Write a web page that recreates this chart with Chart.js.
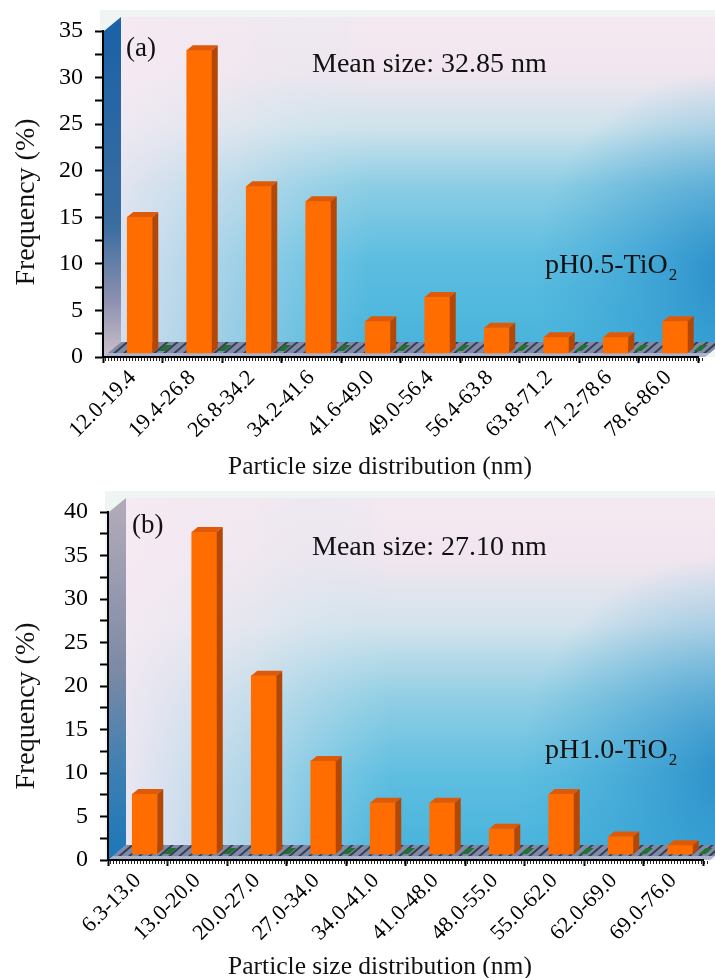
<!DOCTYPE html>
<html>
<head>
<meta charset="utf-8">
<script src="https://cdn.jsdelivr.net/npm/chart.js@4.4.0/dist/chart.umd.min.js"></script>
<style>
  html, body { margin: 0; padding: 0; background: #fff; }
  .panel { position: relative; width: 715px; }
  canvas { display: block; }
</style>
</head>
<body>
<div class="panel" style="height:480px"><canvas id="chartA" width="715" height="480"></canvas></div>
<div class="panel" style="height:498px"><canvas id="chartB" width="715" height="498"></canvas></div>
<script>
// (a) pH0.5-TiO2
const sizeBinsA = ['12.0-19.4', '19.4-26.8', '26.8-34.2', '34.2-41.6', '41.6-49.0',
                   '49.0-56.4', '56.4-63.8', '63.8-71.2', '71.2-78.6', '78.6-86.0'];
const freqA = [14.6, 32.5, 17.9, 16.3, 3.4, 6.0, 2.7, 1.7, 1.7, 3.4];
const yMaxA = 35;

// (b) pH1.0-TiO2
const sizeBinsB = ['6.3-13.0', '13.0-20.0', '20.0-27.0', '27.0-34.0', '34.0-41.0',
                   '41.0-48.0', '48.0-55.0', '55.0-62.0', '62.0-69.0', '69.0-76.0'];
const freqB = [6.9, 37.0, 20.5, 10.7, 5.9, 5.9, 2.9, 6.9, 2.0, 1.0];
const yMaxB = 40;

const yStep = 5;
const serif = "'Liberation Serif', 'Times New Roman', serif";

function stops(g, list) {
  list.forEach(([s, c]) => g.addColorStop(s, c));
  return g;
}

// walls + floor of the 3D box, drawn before the axes
function drawBox(chart, o) {
  const { ctx, chartArea: a } = chart;
  const L = a.left, R = a.right, T = a.top, B = a.bottom;
  const dx = 18, dy = -14;
  ctx.save();

  ctx.fillStyle = '#eef5f3';
  ctx.fillRect(L - 3, T - 21, chart.width - L + 3, B - T + 21);

  // back wall
  const bx = L + dx, by = T + dy, bw = chart.width - bx, bh = (B - 15) - by;
  ctx.fillStyle = stops(ctx.createLinearGradient(0, by, 0, by + bh), o.backV);
  ctx.fillRect(bx, by, bw, bh);
  ctx.fillStyle = stops(ctx.createLinearGradient(bx, 0, bx + bw, 0), o.backH);
  ctx.fillRect(bx, by, bw, bh);
  const cy = by + bh * 0.78;
  ctx.fillStyle = stops(ctx.createRadialGradient(chart.width + 20, cy, 0,
                                                 chart.width + 20, cy, bh * 0.62), o.backR);
  ctx.fillRect(bx, by, bw, bh);

  // left wall
  ctx.fillStyle = stops(ctx.createLinearGradient(0, T, 0, B), o.wall);
  ctx.beginPath();
  ctx.moveTo(L + 1, B); ctx.lineTo(L + 1, T); ctx.lineTo(L + dx, T + dy);
  ctx.lineTo(L + dx, B - 15); ctx.closePath();
  ctx.fill();

  // floor slab
  ctx.fillStyle = '#aab3cc';
  ctx.beginPath();
  ctx.moveTo(L, B); ctx.lineTo(R + 7, B); ctx.lineTo(R + 12, B - 4);
  ctx.lineTo(L + 5, B - 4); ctx.closePath();
  ctx.fill();
  ctx.fillStyle = '#7f89a8';
  ctx.beginPath();
  ctx.moveTo(L + 5, B - 4); ctx.lineTo(R + 12, B - 4); ctx.lineTo(R + 25, B - 15);
  ctx.lineTo(L + dx, B - 15); ctx.closePath();
  ctx.fill();
  ctx.save();
  ctx.clip();
  for (let x = L; x < R + 12; x += 10) {
    ctx.fillStyle = 'rgba(30,36,50,0.75)';
    ctx.beginPath();
    ctx.moveTo(x, B - 4); ctx.lineTo(x + 3, B - 4); ctx.lineTo(x + 16, B - 15);
    ctx.lineTo(x + 13, B - 15); ctx.closePath();
    ctx.fill();
  }
  chart.getDatasetMeta(0).data.forEach(bar => {
    const r = bar.x + bar.width / 2 + 6;
    ctx.fillStyle = '#1f7231';
    ctx.beginPath();
    ctx.moveTo(r, B - 6); ctx.lineTo(r + 7, B - 6); ctx.lineTo(r + 14, B - 12);
    ctx.lineTo(r + 7, B - 12); ctx.closePath();
    ctx.fill();
  });
  ctx.restore();
  ctx.restore();
}

// side and top faces of each bar
function drawDepth(chart) {
  const { ctx } = chart;
  const d = [6, -5];
  ctx.save();
  chart.getDatasetMeta(0).data.forEach(bar => {
    const { x, y, base, width } = bar.getProps(['x', 'y', 'base', 'width'], true);
    const l = x - width / 2, r = x + width / 2;
    ctx.fillStyle = '#df5a08';
    ctx.beginPath();
    ctx.moveTo(l, y); ctx.lineTo(l + d[0], y + d[1]); ctx.lineTo(r + d[0], y + d[1]);
    ctx.lineTo(r, y); ctx.closePath();
    ctx.fill();
    ctx.fillStyle = '#b44705';
    ctx.beginPath();
    ctx.moveTo(r, y); ctx.lineTo(r + d[0], y + d[1]); ctx.lineTo(r + d[0], base + d[1]);
    ctx.lineTo(r, base); ctx.closePath();
    ctx.fill();
  });
  ctx.restore();
}

function drawText(chart, o) {
  const { ctx, chartArea: a } = chart;
  ctx.save();
  // fine ruler ticks under the x axis
  ctx.strokeStyle = '#222';
  ctx.lineWidth = 1;
  ctx.beginPath();
  for (let x = a.left + 2; x < a.right + 6; x += 3) {
    ctx.moveTo(x + 0.5, a.bottom + 1); ctx.lineTo(x + 0.5, a.bottom + 4);
  }
  ctx.stroke();

  ctx.fillStyle = '#111';
  ctx.textBaseline = 'alphabetic';
  ctx.textAlign = 'left';
  ctx.font = '27px ' + serif;
  ctx.fillText(o.tag, o.tagX, o.tagY);
  ctx.font = '28px ' + serif;
  ctx.fillText(o.mean, 312, o.meanY);
  ctx.fillText(o.sample, 545, o.sampleY);
  const w = ctx.measureText(o.sample).width;
  ctx.font = '17px ' + serif;
  ctx.fillText('2', 545 + w + 1, o.sampleY + 7);

  ctx.textAlign = 'center';
  ctx.textBaseline = 'middle';
  ctx.font = '25.5px ' + serif;
  ctx.fillText('Particle size distribution (nm)', 380, o.xTitleY);
  ctx.translate(27, o.yTitleY);
  ctx.rotate(-Math.PI / 2);
  ctx.font = '28px ' + serif;
  ctx.fillText('Frequency (%)', 0, 0);
  ctx.restore();
}

function makeChart(id, labels, values, yMax, o) {
  const sx = 7 / 59.5;          // bars sit half-way into the floor depth
  const sy = o.baseLift;
  return new Chart(document.getElementById(id), {
    type: 'bar',
    data: {
      labels: labels,
      datasets: [{
        data: values.map((v, i) => ({ x: i, y: v })),
        xAxisID: 'xb',
        yAxisID: 'yb',
        backgroundColor: '#ff6c00',
        borderWidth: 0,
        barThickness: 25
      }]
    },
    options: {
      responsive: false,
      animation: false,
      devicePixelRatio: 1,
      layout: { padding: { top: o.padTop, right: o.padRight, left: 0, bottom: 0 } },
      plugins: { legend: { display: false }, tooltip: { enabled: false } },
      scales: {
        x: {
          type: 'category',
          offset: true,
          grid: { offset: true, drawOnChartArea: false, tickLength: 6, tickWidth: 2, color: '#000' },
          border: { display: true, color: '#000', width: 2 },
          ticks: {
            minRotation: 45, maxRotation: 45, autoSkip: false, padding: 2,
            color: '#000', font: { family: serif, size: 22 }
          },
          afterFit: s => { s.height = o.xHeight; }
        },
        y: {
          min: 0,
          max: yMax,
          grid: { drawOnChartArea: false, tickLength: 8, tickWidth: 2, color: '#000' },
          border: { display: true, color: '#000', width: 2 },
          ticks: {
            stepSize: yStep / 2, autoSkip: false, padding: 12, color: '#000',
            font: { family: serif, size: 24 },
            callback: v => (v % yStep === 0 ? v : '')
          },
          afterFit: s => { s.width = o.yWidth; }
        },
        xb: { type: 'linear', display: false, offset: false, min: -0.5 - sx, max: labels.length - 0.5 - sx },
        yb: { type: 'linear', display: false, min: -sy, max: yMax - sy }
      }
    },
    plugins: [{
      id: 'box3d',
      beforeDraw: c => drawBox(c, o),
      afterDatasetsDraw: c => drawDepth(c),
      afterDraw: c => drawText(c, o)
    }]
  });
}

const backRadial = [[0, 'rgba(20,120,190,0.7)'], [0.5, 'rgba(30,135,200,0.35)'], [1, 'rgba(40,150,205,0)']];

makeChart('chartA', sizeBinsA, freqA, yMaxA, {
  padTop: 31, padRight: 17, yWidth: 103, xHeight: 123, baseLift: 0.43,
  tag: '(a)', tagX: 126, tagY: 56,
  mean: 'Mean size: 32.85 nm', meanY: 72,
  sample: 'pH0.5-TiO', sampleY: 273,
  xTitleY: 467, yTitleY: 202,
  wall: [[0, '#1c62a6'], [0.6, '#3b6d9f'], [0.82, '#8a8fae'], [1, '#cdbfcb']],
  backV: [[0, '#f4e9f1'], [0.17, '#f1e6ef'], [0.34, '#cfe3ec'], [0.52, '#8ccde4'], [0.75, '#5cbde0'], [1, '#4ab4dc']],
  backH: [[0, 'rgba(246,234,243,0.8)'], [0.2, 'rgba(240,232,240,0.45)'], [0.42, 'rgba(200,230,240,0)'], [1, 'rgba(200,230,240,0)']],
  backR: backRadial
});

makeChart('chartB', sizeBinsB, freqB, yMaxB, {
  padTop: 32, padRight: 12, yWidth: 108, xHeight: 118, baseLift: 0.69,
  tag: '(b)', tagX: 132, tagY: 53,
  mean: 'Mean size: 27.10 nm', meanY: 75,
  sample: 'pH1.0-TiO', sampleY: 278,
  xTitleY: 487, yTitleY: 226,
  wall: [[0, '#b0a9b8'], [0.45, '#7d8aa5'], [0.75, '#3c7fb2'], [1, '#1b78b8']],
  backV: [[0, '#f4e9f1'], [0.17, '#f1e6ef'], [0.37, '#d3e3ec'], [0.57, '#93cfe4'], [0.8, '#5ebee0'], [1, '#4ab4dc']],
  backH: [[0, 'rgba(246,234,243,0.92)'], [0.22, 'rgba(240,232,240,0.55)'], [0.45, 'rgba(200,230,240,0)'], [1, 'rgba(200,230,240,0)']],
  backR: backRadial
});
</script>
</body>
</html>
